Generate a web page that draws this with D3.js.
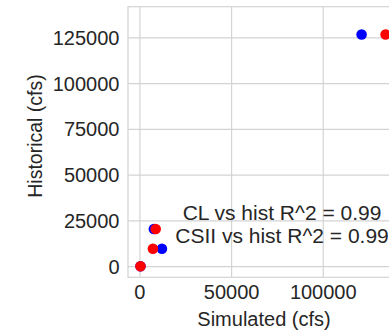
<!DOCTYPE html>
<html>
<head>
<meta charset="utf-8">
<script src="https://cdn.jsdelivr.net/npm/d3@7"></script>
<style>
  body { margin: 0; background: #fff; overflow: hidden; }
  svg { display: block; font-family: "Liberation Sans", Arial, sans-serif; }
</style>
</head>
<body>
<svg id="vis" width="389" height="330"></svg>
<script>
// simulated vs historical flows (cfs)
const clSim = [300, 7600, 12000, 120900];
const clHist = [200, 20600, 9800, 126800];
const csiiSim = [300, 8600, 7100, 134000];
const csiiHist = [200, 20600, 9800, 126800];
const xTicks = [0, 50000, 100000];
const yTicks = [0, 25000, 50000, 75000, 100000, 125000];
const notes = ['CL vs hist R^2 = 0.99', 'CSII vs hist R^2 = 0.99'];

const vis = d3.select('#vis');
const plotL = 128, plotR = 401, plotT = 6.7, plotB = 277.3;

const x = d3.scaleLinear().domain([-6500, 142400]).range([plotL, plotR]);
const y = d3.scaleLinear().domain([-5800, 142000]).range([plotB, plotT]);

const grid = '#d3d3d3';
const ink = '#262626';

// grid
vis.append('g').selectAll('line').data(xTicks).enter().append('line')
    .attr('x1', d => x(d)).attr('x2', d => x(d))
    .attr('y1', plotT).attr('y2', plotB)
    .attr('stroke', grid).attr('stroke-width', 1.2);
vis.append('g').selectAll('line').data(yTicks).enter().append('line')
    .attr('x1', plotL).attr('x2', plotR)
    .attr('y1', d => y(d)).attr('y2', d => y(d))
    .attr('stroke', grid).attr('stroke-width', 1.2);

// frame
vis.append('rect')
    .attr('x', plotL).attr('y', plotT)
    .attr('width', plotR - plotL).attr('height', plotB - plotT)
    .attr('fill', 'none').attr('stroke', grid).attr('stroke-width', 1.2);

// tick labels
vis.append('g').selectAll('text').data(xTicks).enter().append('text')
    .attr('x', d => x(d)).attr('y', 299)
    .attr('text-anchor', 'middle')
    .attr('font-size', 20).attr('fill', ink)
    .text(d => d);
vis.append('g').selectAll('text').data(yTicks).enter().append('text')
    .attr('x', 119.5).attr('y', d => y(d) + 7)
    .attr('text-anchor', 'end')
    .attr('font-size', 20).attr('fill', ink)
    .text(d => d);

// axis labels
vis.append('text')
    .attr('x', 264).attr('y', 326)
    .attr('text-anchor', 'middle')
    .attr('font-size', 20).attr('fill', ink)
    .text('Simulated (cfs)');
vis.append('text')
    .attr('transform', 'translate(42,136) rotate(-90)')
    .attr('text-anchor', 'middle')
    .attr('font-size', 19.5).attr('fill', ink)
    .text('Historical (cfs)');

// points
const dots = vis.append('g');
dots.selectAll('.cl').data(clSim).enter().append('circle')
    .attr('class', 'cl')
    .attr('cx', d => x(d)).attr('cy', (d, i) => y(clHist[i]))
    .attr('r', 5.3).attr('fill', '#0000ff');
dots.selectAll('.csii').data(csiiSim).enter().append('circle')
    .attr('class', 'csii')
    .attr('cx', d => x(d)).attr('cy', (d, i) => y(csiiHist[i]))
    .attr('r', 5.3).attr('fill', '#ff0000');

// R^2 annotation
vis.append('g').selectAll('text').data(notes).enter().append('text')
    .attr('x', x(77500)).attr('y', (d, i) => 220 + i * 22.5)
    .attr('text-anchor', 'middle')
    .attr('font-size', 21).attr('fill', ink)
    .text(d => d);
</script>
</body>
</html>
